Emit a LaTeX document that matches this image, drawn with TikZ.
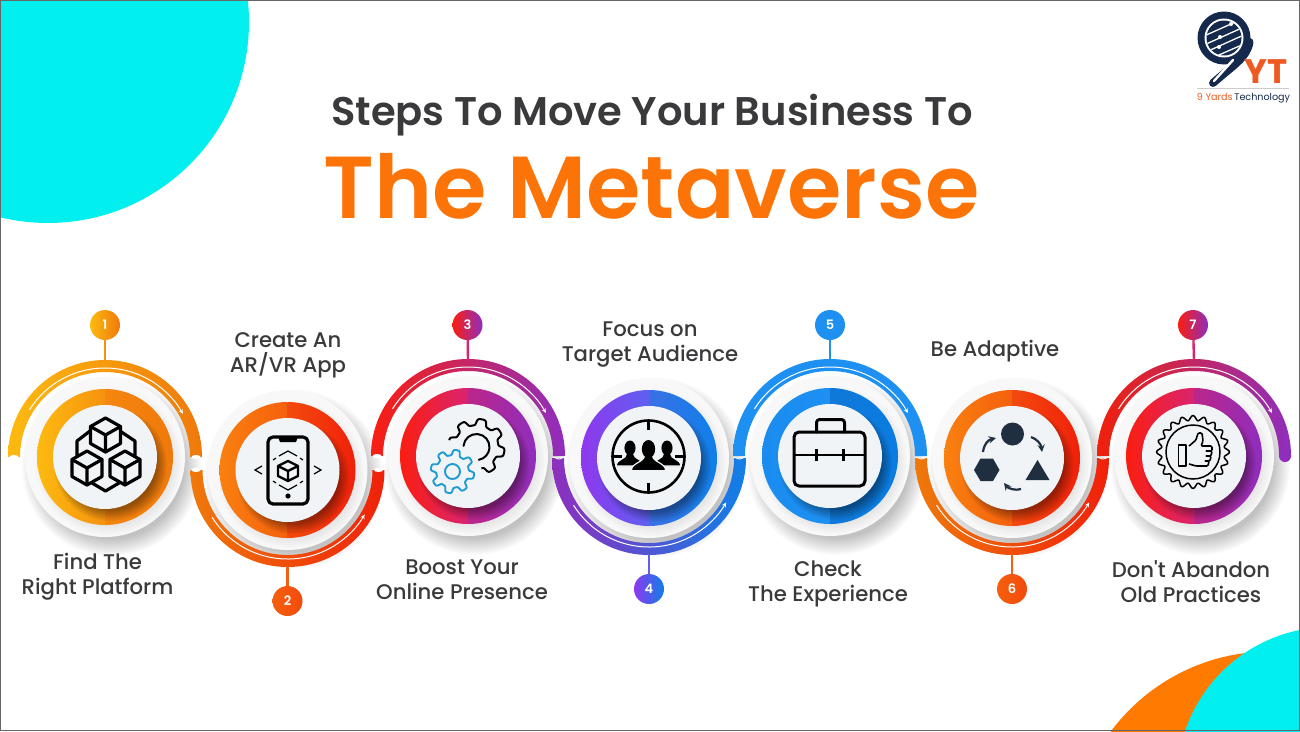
\documentclass[tikz,border=0pt]{standalone}
\usepackage{fontspec}
\setmainfont{Poppins}
\newfontfamily\labelfont{Poppins Medium}
\newfontfamily\titlefont{Poppins SemiBold}
\usetikzlibrary{positioning,calc,fadings,arrows}
\definecolor{bgcyan}{HTML}{02EFEF}
\definecolor{bgorange}{HTML}{FF7A00}
\definecolor{titleorange}{HTML}{FC7408}
\definecolor{textdark}{HTML}{3A3A3D}
\definecolor{navy}{HTML}{14294B}
\definecolor{logoorange}{HTML}{EF5A22}
\definecolor{halo}{HTML}{F8F8F8}
\definecolor{discc}{HTML}{F1F4F6}
\definecolor{shapec}{HTML}{1F2F3F}
\definecolor{gearblue}{HTML}{1E9BD0}
\definecolor{yela}{HTML}{FDBA10}\definecolor{yelb}{HTML}{F6920F}\definecolor{yelc}{HTML}{F5860E}\definecolor{yeld}{HTML}{EF790B}
\definecolor{orga}{HTML}{F9800F}\definecolor{orgb}{HTML}{F5600E}\definecolor{orgc}{HTML}{F34A0D}\definecolor{orgd}{HTML}{F0200A}
\definecolor{reda}{HTML}{FA1E10}\definecolor{redb}{HTML}{DA2470}\definecolor{redc}{HTML}{BC2688}\definecolor{redd}{HTML}{8F2EBE}
\definecolor{vioa}{HTML}{8F38EE}\definecolor{viob}{HTML}{5E60F0}\definecolor{vioc}{HTML}{3A70E6}\definecolor{viod}{HTML}{0F80E8}
\definecolor{blua}{HTML}{1A8CF0}\definecolor{blub}{HTML}{1D90F2}\definecolor{bluc}{HTML}{1078D8}\definecolor{blud}{HTML}{0A7CE2}
\tikzset{
  stepbadge/.style={circle,minimum size=30pt,inner sep=0pt,text=white,font=\titlefont\fontsize{13}{13}\selectfont},
  steplabel/.style={align=center,text=textdark,font=\labelfont\fontsize{21.2}{25}\selectfont},
  stem/.style={line width=2.4pt},
  flowline/.style={white,line width=1pt,-stealth},
  iconline/.style={black,line width=3.2pt,line join=round,line cap=round},
  softshadow/.style={black,path fading=circle with fuzzy edge 20 percent}
}
\newcommand{\stepdisc}[3]{
  \fill[softshadow,opacity=.24] (#1+6,#2+9) circle (90);
  \fill[halo] (#1,#2) circle (80);
  \fill[softshadow,opacity=.10] (#1+3,#2+4) circle (74);
  \path[left color=#3a,right color=#3b] (#1,#2-68) arc (270:90:68) -- cycle;
  \path[left color=#3c,right color=#3d] (#1,#2-68) arc (-90:90:68) -- cycle;
  \begin{scope}
    \clip (#1,#2) circle (68);
    \fill[softshadow,opacity=.38] (#1+5,#2+7) circle (57);
  \end{scope}
  \fill[discc] (#1,#2) circle (52);
}
\newcommand{\toparc}[4]{
  \path[left color=#3,right color=#4] (#1-97,#2) arc (180:360:97) -- (#1+85,#2) arc (360:180:85) -- cycle;
  \draw[flowline] (#1,#2) ++(212:89) arc (212:331:89);
}
\newcommand{\botarc}[4]{
  \path[left color=#3,right color=#4] (#1-97,#2) arc (180:0:97) -- (#1+85,#2) arc (0:180:85) -- cycle;
  \draw[flowline] (#1,#2) ++(148:89) arc (148:30:89);
}
\newcommand{\cutnotch}[2]{\fill[white] (#1,#2) ellipse (4.5 and 2);}
\newcommand{\jointline}[2]{\draw[white,line width=.9pt] (#1-6,#2) -- (#1-1,#2+1.8) -- (#1+1,#2+1.8) -- (#1+6,#2);}
\newcommand{\isocube}[2]{
  \draw[iconline,fill=discc] (#1,#2-17) -- (#1+15,#2-8.5) -- (#1+15,#2+8.5) -- (#1,#2+17) -- (#1-15,#2+8.5) -- (#1-15,#2-8.5) -- cycle;
  \draw[iconline] (#1-15,#2-8.5) -- (#1,#2) -- (#1+15,#2-8.5) (#1,#2) -- (#1,#2+17);
}
\newcommand{\person}[3]{
  \fill[black,draw=discc,line width=1.2pt] (#1-.45*#3,#2+.7*#3) .. controls (#1-.45*#3,#2+1.5*#3) and (#1-1.9*#3,#2+1.5*#3) .. (#1-1.9*#3,#2+2.4*#3) -- (#1+1.9*#3,#2+2.4*#3) .. controls (#1+1.9*#3,#2+1.5*#3) and (#1+.45*#3,#2+1.5*#3) .. (#1+.45*#3,#2+.7*#3) -- cycle;
  \fill[black] (#1,#2) ellipse ({.74*#3} and #3);
}
\begin{document}
\begin{tikzpicture}[x=1pt,y=-1pt]
\useasboundingbox (0,0) rectangle (1300,731);
\clip (0,0) rectangle (1300,731);
\fill[bgcyan] (48,22) circle (201);
\fill[bgorange] (1270,850) circle (198.5);
\fill[bgcyan] (1330,780) circle (153);
\draw[gray!80!black,line width=1pt] (.5,.5) rectangle (1299.5,730.5);

\node[text=textdark,font=\titlefont\fontsize{40}{40}\selectfont] (title) at (652,115) {Steps To Move Your Business To};
\node[text=titleorange,font=\titlefont\fontsize{88}{88}\selectfont] (subtitle) at (651.5,186) {The Metaverse};

\stepdisc{105}{457}{yel}
\stepdisc{287.5}{470}{org}
\stepdisc{468}{456}{red}
\stepdisc{649}{458}{vio}
\stepdisc{830}{456}{blu}
\stepdisc{1012}{458}{org}
\stepdisc{1194}{456}{red}

\toparc{105}{457}{yela}{yeld}
\botarc{287.5}{470}{yeld}{orgd}
\toparc{468}{456}{reda}{redd}
\botarc{649}{458}{redd}{viod}
\toparc{830}{456}{blub}{blub}
\botarc{1012}{458}{yeld}{orgd}
\toparc{1194}{456}{orgd}{redd}
\fill[redd] (1285,456) circle (6);

\cutnotch{14}{457}
\cutnotch{196}{457}
\cutnotch{196}{470}
\cutnotch{378.5}{470}
\cutnotch{377}{456}
\jointline{559}{457}
\jointline{739.5}{457}
\jointline{921.5}{457}
\jointline{1103}{457}

\coordinate (a1) at (105,361);
\coordinate (a2) at (287.5,566);
\coordinate (a3) at (468,360);
\coordinate (a4) at (649,554);
\coordinate (a5) at (830,360);
\coordinate (a6) at (1012,554);
\coordinate (a7) at (1194,360);
\node[stepbadge,left color=yela,right color=yeld] (b1) at (105,325) {1};
\node[stepbadge,left color=orgb,right color=orgc] (b2) at (287.5,601) {2};
\node[stepbadge,left color=reda,right color=redd] (b3) at (467.5,325) {3};
\node[stepbadge,left color=vioa,right color=viod] (b4) at (649,589) {4};
\node[stepbadge,left color=blub,right color=blub] (b5) at (830,325) {5};
\node[stepbadge,left color=orgb,right color=orgc] (b6) at (1012,589) {6};
\node[stepbadge,left color=reda,right color=redd] (b7) at (1193,325) {7};
\draw[stem,yelb] (b1) -- (a1);
\draw[stem,orgb] (b2) -- (a2);
\draw[stem,redb] (b3) -- (a3);
\draw[stem,viob] (b4) -- (a4);
\draw[stem,blub] (b5) -- (a5);
\draw[stem,orgb] (b6) -- (a6);
\draw[stem,redb] (b7) -- (a7);

\node[steplabel] (l1) at (97.5,576.5) {Find The\\Right Platform};
\node[steplabel] (l2) at (288,355.5) {Create An\\AR/VR App};
\node[steplabel] (l3) at (462,580) {Boost Your\\Online Presence};
\node[steplabel] (l4) at (650,345) {Focus on\\Target Audience};
\node[steplabel] (l5) at (828,583.5) {Check\\The Experience};
\node[steplabel] (l6) at (995,351) {Be Adaptive};
\node[steplabel] (l7) at (1191,582) {Don't Abandon\\Old Practices};

\draw[iconline] (90,431) -- (77,441) -- (77,458) (120,431) -- (135,441) -- (135,458) (92,483) -- (105.5,491) -- (119,483);
\isocube{87}{468}
\isocube{125}{468}
\isocube{105.5}{435}

\draw[iconline,rounded corners=5pt] (268,437) rectangle (308,504);
\fill[black] (278,437) -- (298,437) -- (296,442) -- (280,442) -- cycle;
\fill[black] (288,496) circle (2.6);
\draw[black,line width=2.4pt,line join=round] (288,461) -- (298,466) -- (298,476) -- (288,481) -- (278,476) -- (278,466) -- cycle (278,466) -- (288,471) -- (298,466) (288,471) -- (288,481);
\draw[black,line width=1.2pt] (279,456) -- (288,451) -- (297,456) (273,460) -- (276,458) (303,460) -- (300,458) (279,485) -- (288,490) -- (297,485) (273,481) -- (276,483) (303,481) -- (300,483);
\draw[black,line width=1.2pt] (262,466) -- (255,470) -- (262,474) (314,466) -- (321,470) -- (314,474);

\draw[black,line width=2pt,line join=round,shift={(476.5,447)}] plot[domain=194:437,samples=150] (\x:{25+3.2*tanh(2.5*sin(8*\x))});
\draw[black,line width=2pt,line cap=round] (476.5,447) ++(185:13) arc (185:440:13);
\draw[gearblue,line width=1.9pt,line join=round,shift={(452.5,471.5)}] plot[domain=0:360,samples=150] (\x:{19+2.8*tanh(2.5*sin(8*\x))}) -- cycle;
\draw[gearblue,line width=1.9pt] (452.5,471.5) circle (7.5);

\draw[black,line width=2.6pt] (648.5,456.5) circle (36);
\draw[black,line width=2.2pt] (648.5,420.5) -- (648.5,430) (648.5,483) -- (648.5,492.5) (612.5,456.5) -- (622,456.5) (675,456.5) -- (684.5,456.5);
\person{630}{448}{7.5}
\person{667}{448}{7.5}
\person{648.5}{449}{9}

\draw[iconline,line width=3pt,rounded corners=5pt] (794,432) rectangle (865,486);
\draw[iconline,line width=3pt,rounded corners=3pt] (816.5,432) -- (816.5,419.5) -- (844.5,419.5) -- (844.5,432);
\draw[iconline,line width=2.4pt] (794,455) -- (865,455);
\draw[iconline,line width=3.4pt,line cap=butt] (816.5,449) -- (816.5,461) (843.5,449) -- (843.5,461);

\fill[shapec] (1012.5,434) circle (11.5);
\fill[shapec] (974,470) -- (980.5,458.5) -- (993,458.5) -- (999.5,470) -- (993,481) -- (980.5,481) -- cycle;
\fill[shapec] (1037.5,460) -- (1049.5,480) -- (1025.5,480) -- cycle;
\draw[shapec,line width=2.2pt,-stealth] (983,452) .. controls (984,444) and (988,440) .. (996,438);
\draw[shapec,line width=2.2pt,-stealth] (1031,437) .. controls (1037,439) and (1041,444) .. (1042,452);
\draw[shapec,line width=2.2pt,-stealth] (1021,489) .. controls (1014,491) and (1008,488) .. (1004,483);

\draw[black,line width=1.5pt,line join=round,shift={(1193,452)}] plot[domain=0:360,samples=241] (\x:{34+2.4*cos(20*\x)}) -- cycle;
\draw[black,line width=1.5pt] (1193,452) circle (27);
\draw[black,line width=1.6pt,line join=round] (1178.5,445) rectangle (1186,466);
\draw[black,line width=1.6pt,line join=round,rounded corners=1.2pt] (1189,446) -- (1196,440) -- (1198,433) -- (1202,433) -- (1203,441) -- (1201,446) -- (1212,446) -- (1212,451) -- (1205,451) -- (1212,451) -- (1211,456) -- (1205,456) -- (1211,456) -- (1210,461) -- (1204,461) -- (1209,461) -- (1208,466) -- (1196,466) -- (1189,464);

\fill[navy] (1224,38) circle (26.5);
\fill[white] (1224,38) circle (19.5);
\fill[navy] (1224,38) circle (17.5);
\begin{scope}
  \clip (1224,38) circle (17.5);
  \draw[white,line width=1.3pt] (1204,36) -- (1240,20) (1204,45) -- (1244,27) (1206,52) -- (1246,34) (1212,58) -- (1244,44);
  \fill[white] (1231,24) circle (2) (1220,37) circle (2) (1219,47) circle (2);
\end{scope}
\draw[navy,line width=8pt,line cap=round] (1249.5,42) .. controls (1247,58) and (1232,66) .. (1213,83);
\draw[white,line width=2.4pt,line cap=round] (1233,60) -- (1214,81);
\node[text=logoorange,font=\bfseries\fontsize{34}{34}\selectfont,inner sep=0pt] (ytmark) at (1266,72) {YT};
\draw[gray!40,line width=.6pt] (1197,88.5) -- (1289,88.5);
\node[inner sep=0pt,font=\fontsize{9.6}{10}\selectfont] (ytname) at (1243.5,98) {\textcolor{logoorange}{9 Yards}\,\textcolor{navy}{Technology}};
\end{tikzpicture}
\end{document}
